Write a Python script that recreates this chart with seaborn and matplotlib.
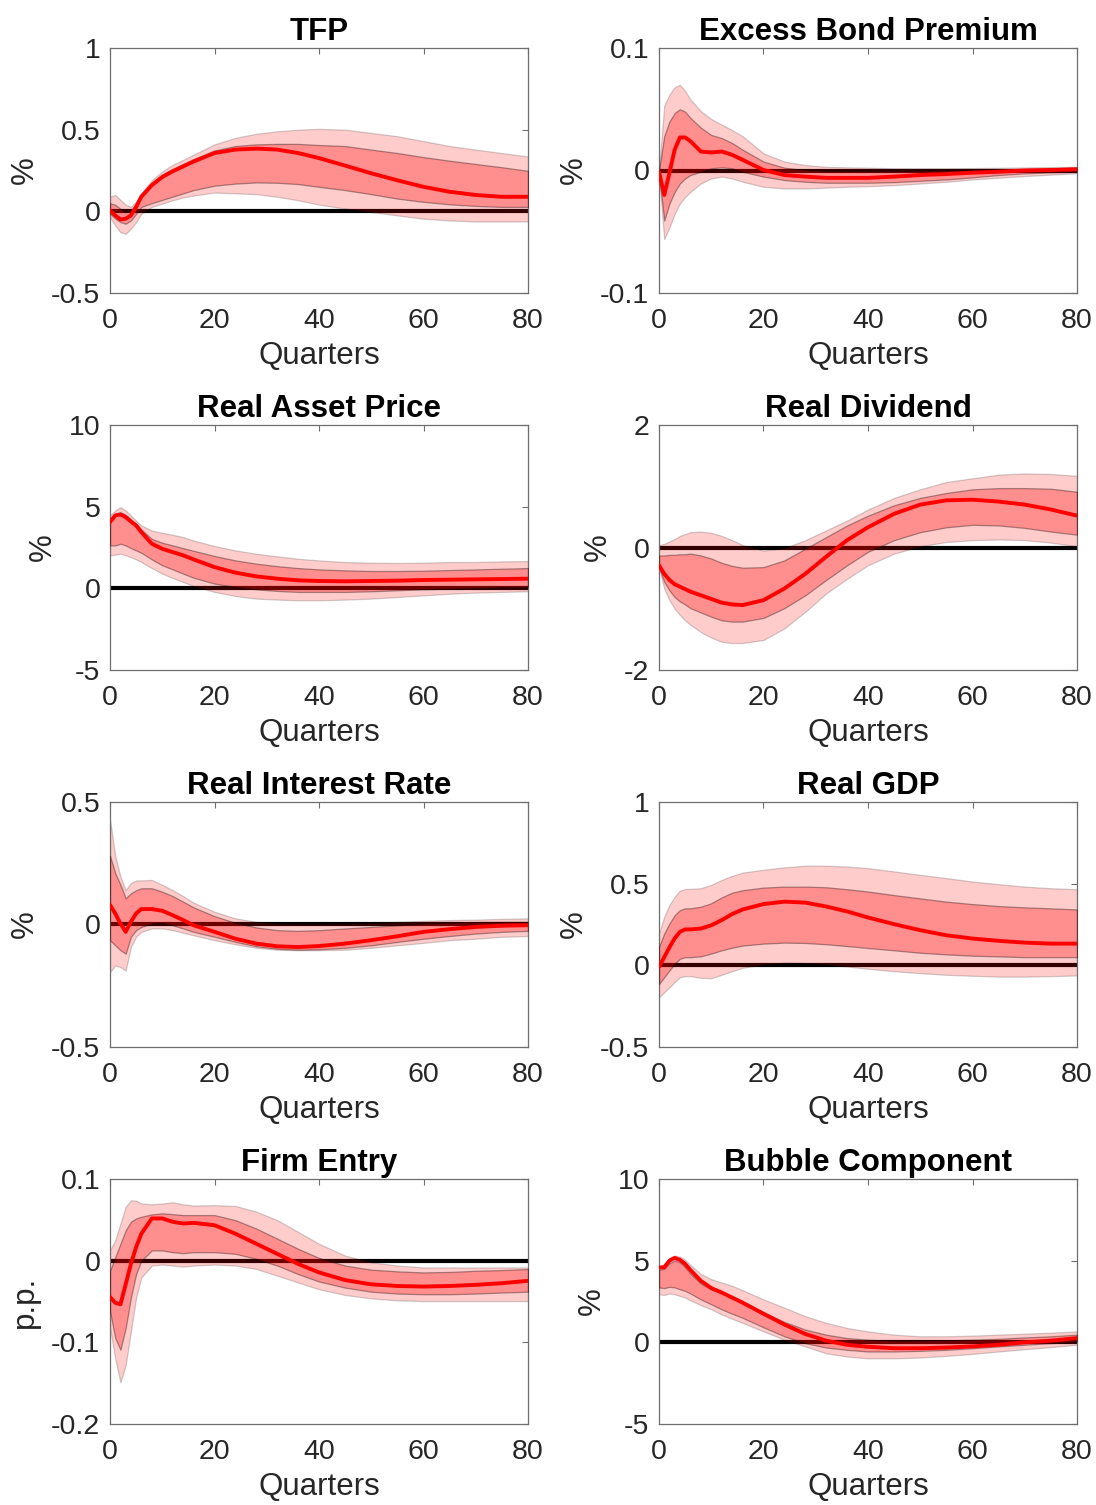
import numpy as np
import pandas as pd
import matplotlib
matplotlib.use("Agg")
import matplotlib.pyplot as plt
import seaborn as sns

sns.set_style("white")
plt.rcParams['font.family'] = ['Liberation Sans', 'DejaVu Sans']
plt.rcParams['axes.unicode_minus'] = False

# Horizon (quarters) at which values were read
quarters = [0, 1, 2, 3, 4, 5, 6, 8, 10, 12, 14, 16, 20, 24, 28, 32, 36, 40, 45, 50, 55, 60, 65, 70, 75, 80]

titles = ["TFP", "Excess Bond Premium", "Real Asset Price", "Real Dividend",
          "Real Interest Rate", "Real GDP", "Firm Entry", "Bubble Component"]
ylabels = ["%", "%", "%", "%", "%", "%", "p.p.", "%"]
yticks = [[-0.5, 0, 0.5, 1], [-0.1, 0, 0.1], [-5, 0, 5, 10], [-2, 0, 2],
          [-0.5, 0, 0.5], [-0.5, 0, 0.5, 1], [-0.2, -0.1, 0, 0.1], [-5, 0, 5, 10]]
yticklabels = [["-0.5", "0", "0.5", "1"], ["-0.1", "0", "0.1"], ["-5", "0", "5", "10"],
               ["-2", "0", "2"], ["-0.5", "0", "0.5"], ["-0.5", "0", "0.5", "1"],
               ["-0.2", "-0.1", "0", "0.1"], ["-5", "0", "5", "10"]]

# ---- TFP ----
tfp_med = [0.005, -0.025, -0.05, -0.045, -0.025, 0.027, 0.09, 0.16, 0.21, 0.245, 0.275, 0.305, 0.357, 0.378, 0.384, 0.378, 0.357, 0.326, 0.28, 0.233, 0.19, 0.15, 0.12, 0.10, 0.089, 0.089]
tfp_hi90 = [0.09, 0.10, 0.07, 0.04, 0.027, 0.06, 0.11, 0.19, 0.245, 0.285, 0.315, 0.347, 0.41, 0.45, 0.475, 0.49, 0.50, 0.505, 0.50, 0.48, 0.46, 0.43, 0.40, 0.378, 0.357, 0.336]
tfp_hi68 = [0.05, 0.04, 0.015, -0.005, 0.005, 0.045, 0.10, 0.175, 0.225, 0.26, 0.29, 0.32, 0.373, 0.40, 0.41, 0.413, 0.413, 0.406, 0.40, 0.378, 0.357, 0.332, 0.31, 0.29, 0.27, 0.248]
tfp_lo68 = [-0.015, -0.045, -0.066, -0.076, -0.056, -0.015, 0.027, 0.05, 0.07, 0.09, 0.11, 0.13, 0.157, 0.17, 0.177, 0.175, 0.167, 0.15, 0.13, 0.105, 0.078, 0.058, 0.043, 0.033, 0.027, 0.027]
tfp_lo90 = [-0.035, -0.087, -0.128, -0.138, -0.107, -0.066, -0.015, 0.027, 0.047, 0.068, 0.085, 0.097, 0.115, 0.11, 0.105, 0.089, 0.068, 0.041, 0.017, -0.004, -0.025, -0.045, -0.056, -0.062, -0.062, -0.062]

# ---- Excess Bond Premium ----
ebp_med = [-0.001, -0.02, -0.002, 0.017, 0.027, 0.027, 0.024, 0.0155, 0.0147, 0.0155, 0.0128, 0.0087, 0.0004, -0.0037, -0.005, -0.006, -0.006, -0.006, -0.005, -0.0037, -0.0029, -0.0018, -0.001, 0.0, 0.0004, 0.001]
ebp_hi90 = [0.0, 0.053, 0.062, 0.068, 0.070, 0.065, 0.058, 0.0485, 0.042, 0.0375, 0.033, 0.028, 0.014, 0.0073, 0.0045, 0.003, 0.0026, 0.0023, 0.0018, 0.0018, 0.0018, 0.002, 0.0022, 0.0025, 0.0028, 0.003]
ebp_hi68 = [0.0, 0.028, 0.040, 0.047, 0.050, 0.048, 0.043, 0.035, 0.029, 0.0265, 0.0224, 0.017, 0.0073, 0.0023, 0.0004, -0.0004, -0.0004, -0.0004, -0.0004, -0.0002, 0.0, 0.0004, 0.0008, 0.0012, 0.0018, 0.0023]
ebp_lo68 = [-0.0023, -0.041, -0.027, -0.0175, -0.0106, -0.0065, -0.0037, -0.001, 0.0018, 0.0026, 0.0018, -0.001, -0.005, -0.0078, -0.0092, -0.01, -0.01, -0.01, -0.0095, -0.0084, -0.0073, -0.0056, -0.0037, -0.0023, -0.0015, -0.001]
ebp_lo90 = [-0.005, -0.056, -0.0464, -0.0353, -0.027, -0.0216, -0.0175, -0.0106, -0.0065, -0.005, -0.0065, -0.0092, -0.0133, -0.0147, -0.0147, -0.014, -0.0133, -0.0128, -0.012, -0.0106, -0.0092, -0.0073, -0.0059, -0.0045, -0.0034, -0.0023]

# ---- Real Asset Price ----
rap_med = [4.05, 4.46, 4.52, 4.36, 4.09, 3.85, 3.44, 2.73, 2.42, 2.22, 2.02, 1.77, 1.30, 0.96, 0.73, 0.59, 0.49, 0.45, 0.43, 0.45, 0.47, 0.51, 0.53, 0.55, 0.57, 0.59]
rap_hi90 = [4.46, 4.77, 4.97, 4.77, 4.46, 4.15, 3.85, 3.54, 3.40, 3.28, 3.14, 2.93, 2.59, 2.32, 2.12, 1.96, 1.81, 1.71, 1.61, 1.57, 1.55, 1.57, 1.61, 1.61, 1.65, 1.67]
rap_hi68 = [4.26, 4.56, 4.66, 4.50, 4.22, 3.95, 3.60, 3.03, 2.79, 2.63, 2.46, 2.30, 1.98, 1.71, 1.51, 1.36, 1.24, 1.16, 1.10, 1.06, 1.06, 1.08, 1.12, 1.16, 1.20, 1.24]
rap_lo68 = [2.63, 2.63, 2.73, 2.63, 2.46, 2.32, 2.18, 1.77, 1.41, 1.16, 0.90, 0.65, 0.29, 0.08, -0.06, -0.16, -0.22, -0.22, -0.22, -0.18, -0.12, -0.06, -0.02, 0.02, 0.06, 0.08]
rap_lo90 = [2.02, 2.06, 2.12, 2.02, 1.91, 1.77, 1.61, 1.24, 0.90, 0.63, 0.39, 0.14, -0.22, -0.47, -0.63, -0.69, -0.73, -0.73, -0.69, -0.63, -0.53, -0.43, -0.33, -0.26, -0.22, -0.18]

# ---- Real Dividend ----
div_med = [-0.29, -0.43, -0.53, -0.60, -0.64, -0.68, -0.72, -0.78, -0.84, -0.90, -0.93, -0.94, -0.86, -0.67, -0.43, -0.15, 0.12, 0.33, 0.55, 0.70, 0.77, 0.78, 0.75, 0.70, 0.62, 0.52]
div_hi90 = [0.04, 0.06, 0.10, 0.14, 0.19, 0.22, 0.25, 0.26, 0.24, 0.19, 0.12, 0.04, -0.05, -0.01, 0.12, 0.28, 0.44, 0.62, 0.81, 0.95, 1.07, 1.13, 1.19, 1.21, 1.20, 1.17]
div_hi68 = [-0.13, -0.13, -0.12, -0.12, -0.11, -0.11, -0.10, -0.13, -0.18, -0.25, -0.30, -0.33, -0.32, -0.21, -0.02, 0.17, 0.36, 0.52, 0.69, 0.81, 0.89, 0.95, 0.97, 0.97, 0.96, 0.91]
div_lo68 = [-0.32, -0.56, -0.70, -0.81, -0.88, -0.93, -0.99, -1.06, -1.13, -1.19, -1.21, -1.21, -1.15, -0.99, -0.78, -0.53, -0.29, -0.07, 0.12, 0.25, 0.33, 0.37, 0.36, 0.32, 0.26, 0.21]
div_lo90 = [-0.34, -0.67, -0.86, -1.00, -1.10, -1.19, -1.26, -1.38, -1.47, -1.54, -1.56, -1.56, -1.51, -1.32, -1.05, -0.75, -0.51, -0.29, -0.10, 0.02, 0.09, 0.12, 0.13, 0.12, 0.08, 0.02]

# ---- Real Interest Rate ----
rir_med = [0.08, 0.045, 0.004, -0.03, 0.011, 0.045, 0.063, 0.063, 0.056, 0.038, 0.018, -0.003, -0.03, -0.058, -0.078, -0.089, -0.092, -0.088, -0.078, -0.064, -0.048, -0.03, -0.019, -0.01, -0.005, -0.003]
rir_hi90 = [0.43, 0.28, 0.196, 0.14, 0.17, 0.18, 0.18, 0.182, 0.162, 0.14, 0.116, 0.089, 0.052, 0.025, 0.011, 0.004, 0.002, 0.002, 0.004, 0.006, 0.011, 0.015, 0.018, 0.02, 0.023, 0.025]
rir_hi68 = [0.28, 0.21, 0.162, 0.107, 0.127, 0.14, 0.148, 0.148, 0.134, 0.116, 0.093, 0.07, 0.034, 0.007, -0.012, -0.023, -0.026, -0.023, -0.016, -0.01, -0.003, 0.004, 0.007, 0.01, 0.011, 0.011]
rir_lo68 = [-0.064, -0.085, -0.105, -0.119, -0.05, -0.023, -0.01, 0.004, 0.007, -0.003, -0.016, -0.03, -0.05, -0.071, -0.089, -0.099, -0.103, -0.101, -0.095, -0.085, -0.071, -0.058, -0.047, -0.037, -0.03, -0.026]
rir_lo90 = [-0.195, -0.167, -0.174, -0.188, -0.092, -0.05, -0.03, -0.016, -0.016, -0.023, -0.034, -0.044, -0.064, -0.081, -0.095, -0.103, -0.105, -0.105, -0.103, -0.095, -0.085, -0.075, -0.064, -0.058, -0.05, -0.047]

# ---- Real GDP ----
gdp_med = [-0.01, 0.05, 0.11, 0.165, 0.205, 0.22, 0.22, 0.225, 0.245, 0.277, 0.314, 0.342, 0.375, 0.39, 0.384, 0.36, 0.33, 0.293, 0.252, 0.215, 0.184, 0.164, 0.15, 0.139, 0.133, 0.133]
gdp_hi90 = [0.195, 0.297, 0.37, 0.42, 0.457, 0.468, 0.468, 0.472, 0.493, 0.523, 0.548, 0.568, 0.585, 0.60, 0.61, 0.61, 0.605, 0.595, 0.575, 0.554, 0.534, 0.513, 0.497, 0.482, 0.472, 0.466]
gdp_hi68 = [0.112, 0.195, 0.256, 0.307, 0.338, 0.349, 0.349, 0.359, 0.38, 0.416, 0.445, 0.46, 0.476, 0.482, 0.482, 0.478, 0.466, 0.452, 0.43, 0.41, 0.39, 0.375, 0.363, 0.355, 0.349, 0.342]
gdp_lo68 = [-0.114, -0.073, -0.031, 0.01, 0.04, 0.05, 0.05, 0.055, 0.072, 0.092, 0.108, 0.121, 0.133, 0.139, 0.137, 0.129, 0.118, 0.106, 0.092, 0.077, 0.067, 0.059, 0.055, 0.05, 0.05, 0.05]
gdp_lo90 = [-0.196, -0.165, -0.134, -0.103, -0.073, -0.066, -0.066, -0.077, -0.079, -0.058, -0.036, -0.015, 0.006, 0.016, 0.014, 0.006, -0.007, -0.021, -0.036, -0.048, -0.058, -0.064, -0.069, -0.069, -0.066, -0.062]

# ---- Firm Entry ----
fe_med = [-0.0445, -0.0515, -0.0535, -0.029, -0.004, 0.0166, 0.033, 0.0517, 0.0517, 0.0476, 0.0455, 0.0463, 0.0434, 0.033, 0.0207, 0.0083, -0.004, -0.0144, -0.0238, -0.029, -0.031, -0.0317, -0.031, -0.0296, -0.0276, -0.0247]
fe_hi90 = [0.0125, 0.025, 0.0455, 0.066, 0.074, 0.0735, 0.07, 0.069, 0.07, 0.0715, 0.069, 0.0675, 0.068, 0.067, 0.06, 0.0497, 0.0352, 0.0207, 0.0062, -0.002, -0.006, -0.0083, -0.0083, -0.0083, -0.0083, -0.0083]
fe_hi68 = [-0.0124, 0.004, 0.0207, 0.0372, 0.0476, 0.0517, 0.0538, 0.0567, 0.058, 0.057, 0.0558, 0.0558, 0.0558, 0.0496, 0.0393, 0.027, 0.0145, 0.0034, -0.006, -0.011, -0.0131, -0.0144, -0.0138, -0.0124, -0.0115, -0.0102]
fe_lo68 = [-0.0618, -0.0948, -0.109, -0.0825, -0.0453, -0.0164, 0.0, 0.0125, 0.0125, 0.0104, 0.0092, 0.0104, 0.0104, 0.0084, 0.0022, -0.006, -0.0164, -0.0255, -0.033, -0.038, -0.0403, -0.0411, -0.0411, -0.0403, -0.039, -0.038]
fe_lo90 = [-0.0825, -0.12, -0.149, -0.128, -0.0866, -0.0453, -0.0205, -0.006, -0.0048, -0.006, -0.0073, -0.006, -0.0048, -0.006, -0.0102, -0.0184, -0.0267, -0.035, -0.042, -0.0462, -0.0486, -0.0495, -0.0495, -0.0495, -0.0495, -0.0495]

# ---- Bubble Component ----
bub_med = [4.59, 4.59, 5.0, 5.17, 5.05, 4.8, 4.43, 3.77, 3.32, 3.05, 2.74, 2.43, 1.75, 1.09, 0.51, 0.10, -0.15, -0.27, -0.36, -0.36, -0.32, -0.25, -0.15, 0.0, 0.10, 0.26]
bub_hi90 = [4.64, 4.8, 5.17, 5.31, 5.25, 5.05, 4.74, 4.18, 3.87, 3.66, 3.46, 3.19, 2.63, 2.12, 1.6, 1.19, 0.88, 0.67, 0.47, 0.37, 0.37, 0.41, 0.47, 0.53, 0.59, 0.67]
bub_hi68 = [4.45, 4.5, 4.85, 5.0, 4.9, 4.6, 4.2, 3.6, 3.25, 3.0, 2.75, 2.47, 1.85, 1.25, 0.78, 0.47, 0.26, 0.16, 0.10, 0.10, 0.12, 0.16, 0.22, 0.30, 0.37, 0.47]
bub_lo68 = [3.36, 3.32, 3.4, 3.36, 3.25, 3.15, 2.99, 2.63, 2.33, 2.02, 1.75, 1.5, 0.92, 0.37, -0.05, -0.32, -0.46, -0.56, -0.56, -0.52, -0.46, -0.36, -0.25, -0.15, -0.05, 0.06]
bub_lo90 = [2.94, 2.9, 2.99, 2.94, 2.84, 2.74, 2.57, 2.28, 2.02, 1.71, 1.44, 1.19, 0.67, 0.16, -0.25, -0.67, -0.87, -0.98, -0.98, -0.93, -0.83, -0.71, -0.56, -0.42, -0.29, -0.15]

panels = [
    (tfp_med, tfp_hi90, tfp_hi68, tfp_lo68, tfp_lo90),
    (ebp_med, ebp_hi90, ebp_hi68, ebp_lo68, ebp_lo90),
    (rap_med, rap_hi90, rap_hi68, rap_lo68, rap_lo90),
    (div_med, div_hi90, div_hi68, div_lo68, div_lo90),
    (rir_med, rir_hi90, rir_hi68, rir_lo68, rir_lo90),
    (gdp_med, gdp_hi90, gdp_hi68, gdp_lo68, gdp_lo90),
    (fe_med, fe_hi90, fe_hi68, fe_lo68, fe_lo90),
    (bub_med, bub_hi90, bub_hi68, bub_lo68, bub_lo90),
]

W, H = 1096, 1505
fig = plt.figure(figsize=(W / 100, H / 100), dpi=100)

col_left = [110, 659]
ax_w = 418
row_top = [48, 425, 802, 1179]
ax_h = 245

spine_col = '#6e6e6e'
text_col = '#262626'

for i, (title, (med, hi90, hi68, lo68, lo90)) in enumerate(zip(titles, panels)):
    r, c = divmod(i, 2)
    rect = [col_left[c] / W, 1 - (row_top[r] + ax_h) / H, ax_w / W, ax_h / H]
    ax = fig.add_axes(rect)
    df = pd.DataFrame({"Quarters": quarters, "med": med, "hi90": hi90,
                       "hi68": hi68, "lo68": lo68, "lo90": lo90})
    ax.axhline(0, color='black', lw=3.0, zorder=1)
    ax.fill_between(df["Quarters"], df["lo90"], df["hi90"], facecolor=(1, 0, 0, 0.2),
                    edgecolor=(0, 0, 0, 0.18), linewidth=0.9, zorder=2)
    ax.fill_between(df["Quarters"], df["lo68"], df["hi68"], facecolor=(1, 0, 0, 0.3),
                    edgecolor=(0, 0, 0, 0.35), linewidth=0.9, zorder=3)
    sns.lineplot(data=df, x="Quarters", y="med", ax=ax, color='red', lw=2.8,
                 zorder=4, legend=False)
    ax.set_xlim(0, 80)
    ax.set_ylim(min(yticks[i]), max(yticks[i]))
    ax.set_xticks([0, 20, 40, 60, 80])
    ax.set_xticklabels(["0", "20", "40", "60", "80"])
    ax.set_yticks(yticks[i])
    ax.set_yticklabels(yticklabels[i])
    ax.tick_params(direction='in', top=True, right=True, length=4, width=0.8,
                   color=spine_col, labelcolor=text_col, labelsize=20.5)
    ax.tick_params(axis='x', pad=11)
    ax.tick_params(axis='y', pad=7)
    for s in ax.spines.values():
        s.set_visible(True)
        s.set_color(spine_col)
        s.set_linewidth(0.9)
    ax.set_title(title, fontsize=22.5, fontweight='bold', color='black', pad=6)
    ax.set_xlabel("Quarters", fontsize=22.5, color=text_col, labelpad=5)
    ax.set_ylabel(ylabels[i], fontsize=22.5, color=text_col, labelpad=8)

fig.savefig("out.png", dpi=100)
